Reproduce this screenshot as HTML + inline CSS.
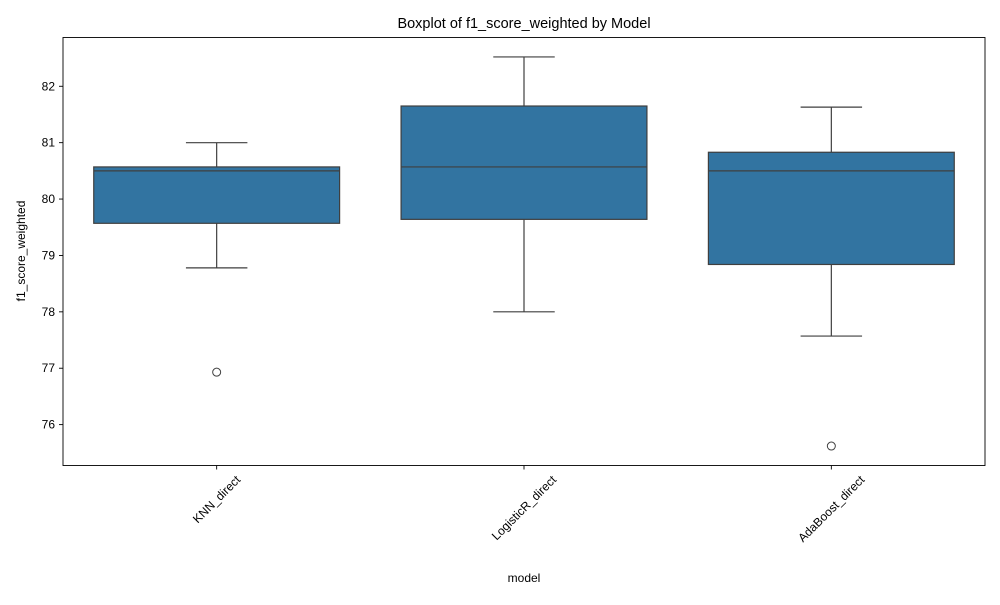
<!DOCTYPE html>
<html><head><meta charset="utf-8"><style>
body{margin:0;background:#fff;}
svg text{font-family:"Liberation Sans","DejaVu Sans",sans-serif;fill:#000;}
</style></head><body>
<svg id="chart" width="1000" height="600" xmlns="http://www.w3.org/2000/svg">
<rect width="1000" height="600" fill="#fff"/>
<text x="524" y="28" font-size="14.5" text-anchor="middle">Boxplot of f1_score_weighted by Model</text>
<g id="plot"></g>
<rect x="63" y="37.5" width="922" height="428" fill="none" stroke="#000" stroke-width="0.9"/>
<text x="524" y="582" font-size="12" text-anchor="middle">model</text>
<text transform="translate(25,251) rotate(-90)" font-size="12" text-anchor="middle">f1_score_weighted</text>
</svg>
<script>
const categories=["KNN_direct","LogisticR_direct","AdaBoost_direct"];
const whiskerLow=[78.78,78.0,77.57];
const q1=[79.57,79.64,78.84];
const medians=[80.5,80.57,80.5];
const q3=[80.57,81.65,80.83];
const whiskerHigh=[81.0,82.52,81.63];
const outliers=[[76.93],[],[75.62]];
const yTicks=[76,77,78,79,80,81,82];

(function(){
const NS="http://www.w3.org/2000/svg";
const g=document.getElementById('plot');
const yMin=75.275,yMax=82.865,plotTop=37.5,plotBot=465.5,plotLeft=63,plotRight=985;
function y(v){return plotBot-(v-yMin)/(yMax-yMin)*(plotBot-plotTop);}
const step=(plotRight-plotLeft)/categories.length;
function x(i){return plotLeft+step*(i+0.5);}
function el(t,a){const e=document.createElementNS(NS,t);for(const k in a)e.setAttribute(k,a[k]);g.appendChild(e);return e;}
yTicks.forEach(v=>{
 const t=el('line',{x1:plotLeft-4,x2:plotLeft,y1:y(v),y2:y(v),stroke:'#000','stroke-width':0.9});
 
 
 const l=el('text',{x:plotLeft-8,y:y(v)+4,'font-size':12,'text-anchor':'end'});
 l.textContent=v;
 
 
});
const bw=step*0.8,cw=bw/8,ec='#3f3f3f';
categories.forEach((c,i)=>{
 const cx=x(i);
 const t=el('line',{x1:cx,x2:cx,y1:plotBot,y2:plotBot+4,stroke:'#000','stroke-width':0.9});
 
 
 const l=el('text',{'font-size':12,'text-anchor':'middle'});
 l.textContent=c;
 
 
 const w=l.getComputedTextLength();
 const half=(w*0.707+12*0.707)/2;
 const cy=plotBot+8+half;
 l.setAttribute('transform',`translate(${cx+2.8},${cy+2.8}) rotate(-45)`);
 const w1=el('line',{x1:cx,x2:cx,y1:y(whiskerLow[i]),y2:y(q1[i]),stroke:ec,'stroke-width':1.2});
 
 
 const w2=el('line',{x1:cx,x2:cx,y1:y(q3[i]),y2:y(whiskerHigh[i]),stroke:ec,'stroke-width':1.2});
 
 
 const c1=el('line',{x1:cx-cw,x2:cx+cw,y1:y(whiskerLow[i]),y2:y(whiskerLow[i]),stroke:ec,'stroke-width':1.2});
 
 
 const c2=el('line',{x1:cx-cw,x2:cx+cw,y1:y(whiskerHigh[i]),y2:y(whiskerHigh[i]),stroke:ec,'stroke-width':1.2});
 
 
 const b=el('rect',{x:cx-bw/2,y:y(q3[i]),width:bw,height:y(q1[i])-y(q3[i]),fill:'#3274a1',stroke:ec,'stroke-width':1.2});
 
 
 const m=el('line',{x1:cx-bw/2,x2:cx+bw/2,y1:y(medians[i]),y2:y(medians[i]),stroke:ec,'stroke-width':1.2});
 
 
 outliers[i].forEach(v=>{
  const o=el('circle',{cx:cx,cy:y(v),r:4,fill:'none',stroke:ec,'stroke-width':1});
  
  
 });
});
})();
</script>
</body></html>
